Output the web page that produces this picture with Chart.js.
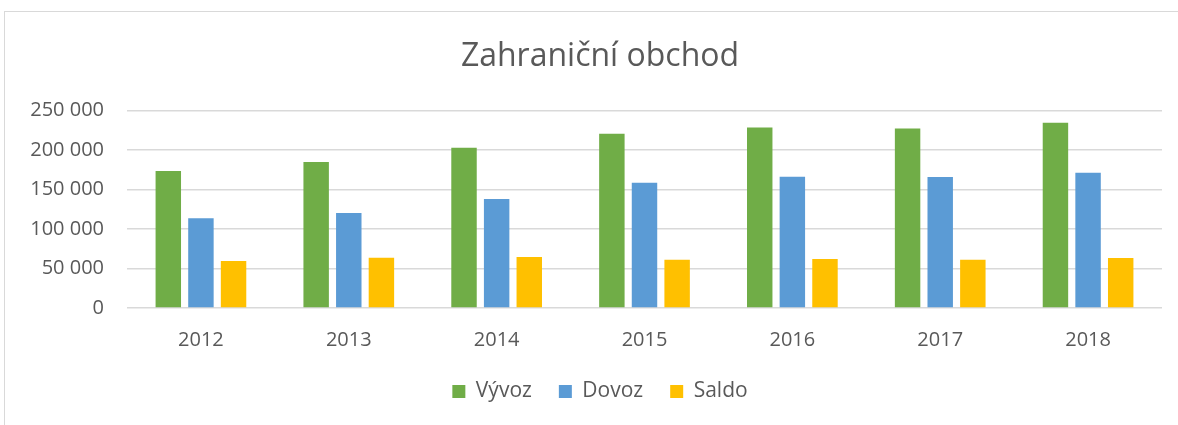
<!DOCTYPE html>
<html>
<head>
<meta charset="utf-8">
<script src="https://cdn.jsdelivr.net/npm/chart.js@4"></script>
<style>
  html, body { margin: 0; padding: 0; background: #fff; overflow: hidden; }
  #wrap { position: relative; width: 1178px; height: 425px; }
  #frame { position: absolute; left: 4px; top: 11px; width: 1200px; height: 440px; border: 1px solid #d9d9d9; box-sizing: border-box; }
  canvas { position: absolute; left: 0; top: 0; }
</style>
</head>
<body>
<div id="wrap">
  <div id="frame"></div>
  <canvas id="c" width="1178" height="425"></canvas>
</div>
<script>
const years = ['2012', '2013', '2014', '2015', '2016', '2017', '2018'];
const vyvoz = [173300, 184700, 202800, 220500, 228500, 227200, 234400];
const dovoz = [113400, 120200, 137900, 158500, 166100, 165700, 171200];
const saldo = [59500, 63600, 64500, 61100, 62000, 61100, 63300];
const seriesNames = ['Vývoz', 'Dovoz', 'Saldo'];
const yTicks = [0, 50000, 100000, 150000, 200000, 250000];

const textColor = '#595959';
const fam = "'Open Sans', 'Liberation Sans', sans-serif";

function fmt(v) {
  return String(v).replace(/\B(?=(\d{3})+(?!\d))/g, ' ');
}

// The original chart box is wider than the visible crop; title and legend are
// centred on that wider box, so shift their boxes' left edge.
const centerShift = {
  id: 'centerShift',
  afterLayout(chart) {
    if (chart.titleBlock) chart.titleBlock.left = 38;
    if (chart.legend) chart.legend.left = 38;
  }
};

new Chart(document.getElementById('c'), {
  type: 'bar',
  data: {
    labels: years,
    datasets: [
      { label: seriesNames[0], data: vyvoz, backgroundColor: '#70AD47' },
      { label: seriesNames[1], data: dovoz, backgroundColor: '#5B9BD5' },
      { label: seriesNames[2], data: saldo, backgroundColor: '#FFC000' }
    ]
  },
  plugins: [centerShift],
  options: {
    responsive: false,
    animation: false,
    devicePixelRatio: 1,
    layout: { padding: { left: 0, right: 16, top: 0, bottom: 13 } },
    datasets: { bar: { categoryPercentage: 0.662, barPercentage: 0.78 } },
    plugins: {
      title: {
        display: true,
        text: 'Zahraniční obchod',
        color: textColor,
        font: { family: fam, size: 32, weight: 'normal' },
        padding: { top: 38, bottom: 34 }
      },
      legend: {
        position: 'bottom',
        labels: {
          color: textColor,
          font: { family: fam, size: 21 },
          boxWidth: 13,
          boxHeight: 13,
          padding: 27
        }
      },
      tooltip: { enabled: false }
    },
    scales: {
      x: {
        grid: { display: false, drawTicks: false },
        border: { display: false },
        ticks: { color: textColor, font: { family: fam, size: 20 }, padding: 20 },
        afterFit: (s) => { s.height = 46; }
      },
      y: {
        min: yTicks[0],
        max: yTicks[yTicks.length - 1],
        afterBuildTicks: (s) => { s.ticks = yTicks.map(v => ({ value: v })); },
        grid: { color: '#d9d9d9', lineWidth: 1.5, drawTicks: false },
        border: { display: false },
        ticks: { color: textColor, font: { family: fam, size: 20 }, padding: 23, callback: (v) => fmt(v) },
        afterFit: (s) => { s.width = 127; }
      }
    }
  }
});
</script>
</body>
</html>
